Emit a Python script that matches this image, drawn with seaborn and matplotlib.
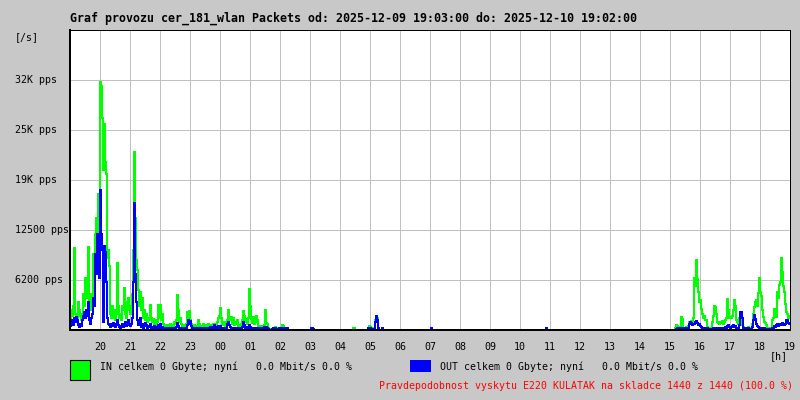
import matplotlib
matplotlib.use('Agg')
import matplotlib.pyplot as plt
from matplotlib.patches import Rectangle
from matplotlib.transforms import blended_transform_factory
import seaborn as sns
import numpy as np
import pandas as pd

# hour tick labels, 19:00 (day before) .. 19:00
hour_labels = ['20', '21', '22', '23', '00', '01', '02', '03', '04', '05', '06', '07',
               '08', '09', '10', '11', '12', '13', '14', '15', '16', '17', '18', '19']
y_ticks = [6250, 12500, 18750, 25000, 31250]
y_labels = ['6200 pps', '12500 pps', '19K pps', '25K pps', '32K pps']

# packets per second, one value per 2 minutes (30 per hour), hour by hour from 19:00
in_pps = [
    1500, 2500, 1800, 3000, 10200, 2000, 1200, 1500, 3500, 2500, 1800, 1200, 2000, 4500, 3000, 6500, 4000, 6000, 10400, 3500, 2500, 4500, 3000, 9500, 6000, 12000, 14000, 11000, 17000, 12500,  # 19
    31000, 30500, 26500, 20000, 25800, 21000, 19500, 9000, 10000, 8000, 2000, 1500, 3000, 1500, 2500, 1200, 2000, 8400, 3000, 1500, 2000, 1200, 3000, 2500, 5300, 2000, 1500, 3500, 4000, 2500,  # 20
    2000, 3000, 4500, 10000, 22300, 14000, 8800, 7500, 5000, 3000, 4800, 2500, 4000, 1500, 2500, 1200, 2000, 1000, 1500, 1200, 3100, 1500, 1000, 1400, 800, 1200, 600, 1000, 3100, 1500,  # 21
    3100, 1200, 2000, 800, 600, 500, 400, 600, 400, 500, 800, 400, 600, 500, 1000, 700, 1200, 4400, 2500, 1000, 1500, 800, 500, 400, 600, 300, 800, 2300, 1500, 2400,  # 22
    1200, 800, 500, 400, 600, 300, 500, 400, 1300, 700, 400, 300, 500, 700, 400, 600, 300, 500, 800, 400, 600, 500, 300, 700, 500, 800, 600, 1000, 1500, 1700,  # 23
    2800, 1500, 800, 600, 1000, 500, 700, 1200, 2500, 1500, 1200, 1600, 800, 1500, 600, 1000, 700, 1200, 500, 400, 600, 800, 1200, 2400, 1800, 1000, 1400, 800, 1500, 5100,  # 00
    3000, 1400, 900, 1600, 700, 1000, 1700, 1200, 500, 400, 300, 500, 300, 400, 600, 2500, 900, 700, 200, 100, 0, 0, 100, 300, 200, 400, 200, 100, 0, 100,  # 01
    200, 300, 600, 500, 200, 100, 200, 100, 0, 0, 0, 0, 0, 0, 0, 0, 0, 0, 0, 0, 0, 0, 0, 0, 0, 0, 0, 0, 0, 0,  # 02
    0, 0, 0, 0, 0, 0, 0, 0, 0, 0, 0, 0, 0, 0, 0, 0, 0, 0, 0, 0, 0, 0, 0, 0, 0, 0, 0, 0, 0, 0,  # 03
    0, 0, 0, 0, 0, 0, 0, 0, 0, 0, 0, 0, 0, 300, 200, 0, 0, 0, 0, 0, 0, 0, 0, 0, 0, 0, 0, 0, 300, 500,  # 04
    400, 200, 0, 0, 200, 1200, 1800, 1500, 300, 0, 0, 0, 200, 0, 0, 0, 0, 0, 0, 0, 0, 0, 0, 0, 0, 0, 0, 0, 0, 0,  # 05
    0, 0, 0, 0, 0, 0, 0, 0, 0, 0, 0, 0, 0, 0, 0, 0, 0, 0, 0, 0, 0, 0, 0, 0, 0, 0, 0, 0, 0, 0,  # 06
    0, 0, 0, 0, 0, 0, 0, 0, 0, 0, 0, 0, 0, 0, 0, 0, 0, 0, 0, 0, 0, 0, 0, 0, 0, 0, 0, 0, 0, 0,  # 07
    0, 0, 0, 0, 0, 0, 0, 0, 0, 0, 0, 0, 0, 0, 0, 0, 0, 0, 0, 0, 0, 0, 0, 0, 0, 0, 0, 0, 0, 0,  # 08
    0, 0, 0, 0, 0, 0, 0, 0, 0, 0, 0, 0, 0, 0, 0, 0, 0, 0, 0, 0, 0, 0, 0, 0, 0, 0, 0, 0, 0, 0,  # 09
    0, 0, 0, 0, 0, 0, 0, 0, 0, 0, 0, 0, 0, 0, 0, 0, 0, 0, 0, 0, 0, 0, 0, 0, 0, 0, 0, 0, 0, 0,  # 10
    0, 0, 0, 0, 0, 0, 0, 0, 0, 0, 0, 0, 0, 0, 0, 0, 0, 0, 0, 0, 0, 0, 0, 0, 0, 0, 0, 0, 0, 0,  # 11
    0, 0, 0, 0, 0, 0, 0, 0, 0, 0, 0, 0, 0, 0, 0, 0, 0, 0, 0, 0, 0, 0, 0, 0, 0, 0, 0, 0, 0, 0,  # 12
    0, 0, 0, 0, 0, 0, 0, 0, 0, 0, 0, 0, 0, 0, 0, 0, 0, 0, 0, 0, 0, 0, 0, 0, 0, 0, 0, 0, 0, 0,  # 13
    0, 0, 0, 0, 0, 0, 0, 0, 0, 0, 0, 0, 0, 0, 0, 0, 0, 0, 0, 0, 0, 0, 0, 0, 0, 0, 0, 0, 0, 0,  # 14
    0, 0, 0, 0, 0, 200, 600, 500, 300, 200, 400, 1600, 1400, 300, 200, 300, 400, 300, 500, 1000, 800, 1100, 700, 1500, 6500, 5500, 8800, 6400, 4700, 3500,  # 15
    3800, 2600, 2000, 1500, 1800, 1200, 1300, 400, 300, 200, 300, 200, 1000, 1800, 3000, 2900, 2000, 1000, 900, 800, 1000, 900, 1100, 800, 1000, 1200, 1500, 3900, 2500, 1500,  # 16
    1600, 1500, 1700, 2500, 3700, 3000, 1200, 1000, 800, 1500, 2300, 2000, 600, 400, 300, 200, 300, 200, 400, 300, 200, 300, 800, 2000, 2900, 3500, 3800, 3000, 4600, 6500,  # 17
    4700, 4200, 2500, 1600, 1000, 900, 600, 300, 100, 0, 200, 100, 1200, 1500, 2600, 2200, 1600, 4800, 4000, 5600, 6000, 9000, 7200, 5500, 4700, 3200, 2300, 2000, 1500, 1800,  # 18
]

out_pps = [
    500, 800, 1200, 600, 1500, 1000, 1600, 1200, 600, 400, 800, 500, 1200, 1800, 2200, 1500, 2500, 1800, 3500, 1200, 800, 1500, 2000, 4000, 3000, 9500, 7000, 12000, 8000, 6500,  # 19
    17500, 12000, 10000, 1000, 10500, 9800, 6000, 1500, 800, 600, 400, 700, 500, 900, 600, 400, 800, 1200, 600, 400, 300, 500, 800, 400, 600, 1000, 500, 800, 1200, 600,  # 20
    500, 800, 1500, 6000, 15900, 7000, 3500, 1200, 600, 800, 1500, 400, 700, 300, 500, 900, 600, 300, 500, 400, 800, 300, 400, 200, 500, 300, 200, 400, 600, 300,  # 21
    700, 300, 400, 200, 200, 300, 100, 200, 300, 100, 200, 300, 200, 100, 300, 200, 400, 900, 500, 300, 200, 300, 100, 200, 100, 200, 300, 600, 1200, 800,  # 22
    1100, 500, 300, 200, 100, 200, 100, 200, 300, 100, 200, 100, 100, 200, 100, 200, 300, 100, 200, 300, 400, 200, 300, 400, 600, 300, 200, 400, 500, 300,  # 23
    500, 300, 200, 300, 200, 100, 300, 800, 1000, 600, 400, 300, 200, 300, 100, 200, 300, 200, 100, 200, 100, 200, 400, 1000, 600, 300, 200, 400, 300, 600,  # 00
    400, 300, 200, 300, 200, 100, 300, 200, 100, 200, 100, 200, 100, 300, 400, 300, 400, 200, 100, 0, 0, 0, 100, 200, 100, 200, 100, 0, 0, 200,  # 01
    300, 300, 200, 300, 200, 100, 100, 200, 0, 0, 0, 0, 0, 0, 0, 0, 0, 0, 0, 0, 0, 0, 0, 0, 0, 0, 0, 0, 0, 0,  # 02
    0, 200, 200, 100, 0, 0, 0, 0, 0, 0, 0, 0, 0, 0, 0, 0, 0, 0, 0, 0, 0, 0, 0, 0, 0, 0, 0, 0, 0, 0,  # 03
    0, 0, 0, 0, 0, 0, 0, 0, 0, 0, 0, 0, 0, 0, 0, 0, 0, 0, 0, 0, 0, 0, 0, 0, 0, 0, 0, 0, 200, 300,  # 04
    300, 100, 0, 0, 100, 1000, 1750, 1200, 200, 0, 0, 0, 200, 0, 0, 0, 0, 0, 0, 0, 0, 0, 0, 0, 0, 0, 0, 0, 0, 0,  # 05
    0, 0, 0, 0, 0, 0, 0, 0, 0, 0, 0, 0, 0, 0, 0, 0, 0, 0, 0, 0, 0, 0, 0, 0, 0, 0, 0, 0, 0, 0,  # 06
    0, 200, 0, 0, 0, 0, 0, 0, 0, 0, 0, 0, 0, 0, 0, 0, 0, 0, 0, 0, 0, 0, 0, 0, 0, 0, 0, 0, 0, 0,  # 07
    0, 0, 0, 0, 0, 0, 0, 0, 0, 0, 0, 0, 0, 0, 0, 0, 0, 0, 0, 0, 0, 0, 0, 0, 0, 0, 0, 0, 0, 0,  # 08
    0, 0, 0, 0, 0, 0, 0, 0, 0, 0, 0, 0, 0, 0, 0, 0, 0, 0, 0, 0, 0, 0, 0, 0, 0, 0, 0, 0, 0, 0,  # 09
    0, 0, 0, 0, 0, 0, 0, 0, 0, 0, 0, 0, 0, 0, 0, 0, 0, 0, 0, 0, 0, 0, 0, 0, 0, 0, 200, 0, 0, 0,  # 10
    0, 0, 0, 0, 0, 0, 0, 0, 0, 0, 0, 0, 0, 0, 0, 0, 0, 0, 0, 0, 0, 0, 0, 0, 0, 0, 0, 0, 0, 0,  # 11
    0, 0, 0, 0, 0, 0, 0, 0, 0, 0, 0, 0, 0, 0, 0, 0, 0, 0, 0, 0, 0, 0, 0, 0, 0, 0, 0, 0, 0, 0,  # 12
    0, 0, 0, 0, 0, 0, 0, 0, 0, 0, 0, 0, 0, 0, 0, 0, 0, 0, 0, 0, 0, 0, 0, 0, 0, 0, 0, 0, 0, 0,  # 13
    0, 0, 0, 0, 0, 0, 0, 0, 0, 0, 0, 0, 0, 0, 0, 0, 0, 0, 0, 0, 0, 0, 0, 0, 0, 0, 0, 0, 0, 0,  # 14
    0, 0, 0, 0, 0, 0, 100, 200, 100, 100, 200, 300, 200, 300, 200, 100, 200, 300, 200, 700, 1000, 900, 600, 700, 800, 1000, 1100, 900, 600, 800,  # 15
    500, 400, 300, 200, 300, 200, 100, 200, 100, 0, 100, 0, 100, 300, 200, 300, 200, 100, 200, 100, 200, 100, 200, 100, 200, 400, 300, 500, 600, 400,  # 16
    300, 400, 500, 600, 400, 500, 300, 200, 300, 600, 2200, 2300, 1500, 300, 200, 100, 200, 100, 200, 100, 0, 100, 400, 1200, 1900, 1400, 800, 500, 400, 300,  # 17
    200, 300, 200, 100, 200, 100, 0, 100, 0, 0, 100, 0, 200, 300, 500, 400, 600, 700, 500, 600, 800, 600, 900, 800, 600, 700, 1200, 1300, 900, 700,  # 18
]

n = len(in_pps)
t_hours = np.arange(n) / 30.0
df = pd.DataFrame({
    't': np.concatenate([t_hours, t_hours]),
    'pps': in_pps + out_pps,
    'dir': ['IN'] * n + ['OUT'] * n,
})

plt.rcParams['font.family'] = 'DejaVu Sans Mono'
W, H = 800, 400


def fx(x):
    return x / W


def fy(y):
    return 1 - y / H


fig = plt.figure(figsize=(8, 4), dpi=100, facecolor='#c8c8c8')
ax = fig.add_axes([fx(70), 70 / H, 720 / W, 300 / H])
ax.set_facecolor('white')

# 0.72 pt = 1 pixel at 100 dpi, crisp like the original bitmap chart
sns.lineplot(data=df, x='t', y='pps', hue='dir', palette={'IN': '#00ff00', 'OUT': '#0000ff'},
             drawstyle='steps-post', estimator=None, legend=False, linewidth=0.72,
             antialiased=False, ax=ax)

ax.set_xlim(0, 24)
ax.set_ylim(0, 37500)
ax.set_xticks(range(1, 25))
ax.set_xticklabels(hour_labels, fontsize=7.2)
ax.set_yticks(y_ticks)
ax.set_yticklabels([])
ax.tick_params(axis='both', length=0)
ax.tick_params(axis='x', pad=9)
ax.grid(True, color='#c0c0c0', linewidth=0.72, antialiased=False)
ax.set_axisbelow(True)
ax.set_xlabel('')
ax.set_ylabel('')
for side in ['left', 'bottom']:
    ax.spines[side].set_linewidth(1.44)
for side in ['top', 'right']:
    ax.spines[side].set_linewidth(0.72)
for sp in ax.spines.values():
    sp.set_color('black')

# y labels, left aligned at the figure edge
tr = blended_transform_factory(fig.transFigure, ax.transData)
for v, lab in zip(y_ticks, y_labels):
    fig.text(fx(15), v, lab, transform=tr, ha='left', va='center', fontsize=7.2)

fig.text(fx(70), fy(18), 'Graf provozu cer_181_wlan Packets od: 2025-12-09 19:03:00 do: 2025-12-10 19:02:00',
         ha='left', va='center', fontsize=8.4, fontweight='bold')
fig.text(fx(15), fy(37), '[/s]', ha='left', va='center', fontsize=7.2)
fig.text(fx(788), fy(356), '[h]', ha='right', va='center', fontsize=7.2)

# legend boxes
fig.add_artist(Rectangle((fx(70), fy(380)), 20 / W, 20 / H, transform=fig.transFigure,
                         facecolor='#00ff00', edgecolor='black', linewidth=0.8))
fig.add_artist(Rectangle((fx(410), fy(372)), 21 / W, 12 / H, transform=fig.transFigure,
                         facecolor='#0000ff', edgecolor='none'))
fig.text(fx(100), fy(367), 'IN celkem 0 Gbyte; nyní   0.0 Mbit/s 0.0 %', ha='left', va='center', fontsize=7.1)
fig.text(fx(440), fy(367), 'OUT celkem 0 Gbyte; nyní   0.0 Mbit/s 0.0 %', ha='left', va='center', fontsize=7.1)
fig.text(fx(793), fy(386), 'Pravdepodobnost vyskytu E220 KULATAK na skladce 1440 z 1440 (100.0 %)',
         ha='right', va='center', fontsize=7.1, color='#ff0000')

fig.savefig('out.png', dpi=100, facecolor=fig.get_facecolor())
